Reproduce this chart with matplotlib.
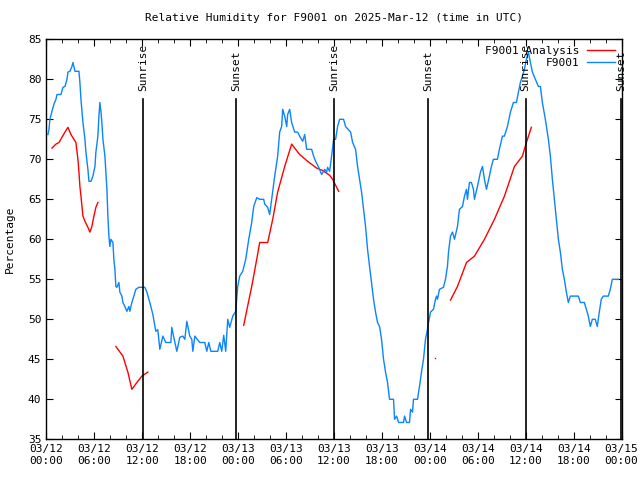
import numpy as np
import pandas as pd
import matplotlib
matplotlib.use("Agg")
import matplotlib.pyplot as plt
import matplotlib.dates as mdates

plt.rcParams['font.family'] = ['DejaVu Sans Mono']

start = pd.Timestamp("2025-03-12 00:00")

# F9001 observations: hours after 03/12 00:00 UTC, relative humidity (%)
obs_hours = [0.21, 0.34, 0.46, 0.71, 0.96, 1.21, 1.34, 1.84, 2.09, 2.34, 2.59, 2.71, 2.96, 3.21, 3.34,
             3.59, 4.09, 4.21, 4.34, 4.59, 4.84, 4.96, 5.21, 5.34, 5.59, 5.84, 6.09, 6.21, 6.46, 6.59,
             6.71, 6.84, 6.96, 7.09, 7.34, 7.46, 7.59, 7.71, 7.84, 7.96, 8.09, 8.34, 8.46, 8.59, 8.71,
             8.84, 9.09, 9.21, 9.46, 9.59, 9.84, 10.09, 10.34, 10.46, 10.71, 10.96, 11.21, 11.59, 12.34,
             12.59, 12.96, 13.34, 13.71, 13.96, 14.21, 14.59, 14.96, 15.59, 15.71, 15.96, 16.34, 16.71,
             17.09, 17.34, 17.59, 17.96, 18.21, 18.34, 18.59, 19.21, 19.84, 20.09, 20.34, 20.59, 21.46,
             21.71, 21.96, 22.21, 22.46, 22.71, 22.96, 23.34, 23.71, 23.96, 24.21, 24.59, 24.96, 25.34,
             25.71, 25.96, 26.34, 26.71, 27.21, 27.34, 27.71, 27.96, 28.21, 28.59, 28.96, 29.21, 29.46,
             29.59, 29.84, 30.09, 30.21, 30.46, 30.71, 31.09, 31.46, 31.71, 32.09, 32.34, 32.59, 33.21,
             33.46, 33.71, 34.09, 34.46, 34.84, 35.09, 35.21, 35.46, 35.71, 35.96, 36.21, 36.46, 36.71,
             37.21, 37.46, 38.09, 38.34, 38.71, 38.96, 39.21, 39.46, 39.71, 39.96, 40.21, 40.46, 40.71,
             40.96, 41.21, 41.46, 41.71, 41.96, 42.21, 42.46, 42.71, 42.96, 43.46, 43.59, 43.84, 44.09,
             44.71, 44.84, 45.09, 45.46, 45.59, 45.84, 45.96, 46.46, 46.71, 46.96, 47.21, 47.46, 47.71,
             47.84, 48.09, 48.46, 48.71, 48.84, 48.96, 49.21, 49.71, 49.96, 50.21, 50.34, 50.59, 50.84,
             51.09, 51.46, 51.71, 52.09, 52.34, 52.59, 52.71, 52.96, 53.21, 53.46, 53.59, 53.96, 54.34,
             54.59, 54.84, 55.09, 55.46, 55.71, 55.96, 56.46, 56.71, 57.09, 57.34, 57.71, 58.09, 58.46,
             58.84, 59.09, 59.34, 59.59, 59.84, 60.09, 60.34, 60.59, 60.84, 61.21, 61.59, 61.84, 62.09,
             62.46, 62.84, 63.09, 63.34, 63.59, 63.84, 64.09, 64.34, 64.59, 64.84, 65.09, 65.34, 65.59,
             66.59, 66.84, 67.34, 67.59, 67.84, 68.09, 68.34, 68.71, 68.96, 69.21, 69.46, 69.71, 70.34,
             70.59, 70.84, 71.59]
obs_rh = [73.1, 73.75, 75, 76, 76.9, 77.5, 78.1, 78.1, 79, 79.1, 80, 80.9, 81, 81.6, 82.1,
          81, 81, 79.6, 77.5, 74.6, 72.5, 70.9, 68.75, 67.25, 67.25, 67.9, 69.1, 70.9, 72.9, 75.4,
          77.1, 76, 74.6, 72.5, 70.4, 68.4, 66.25, 62.9, 60.4, 59.1, 60, 59.6, 57.5, 56.25, 54.1,
          54, 54.6, 53.4, 52.9, 52.1, 51.6, 51, 51.6, 51, 52.1, 52.9, 53.75, 54, 54,
          53.4, 52.1, 50.6, 48.5, 48.7, 46.25, 47.9, 47.1, 47.1, 49, 47.75, 46, 47.75,
          47.9, 47.5, 49.75, 47.9, 47.5, 46, 47.9, 47.1, 47.1, 46, 47.1, 46, 46,
          47.1, 46, 48, 46, 50, 49, 50.4, 51, 54.1, 55.4, 56, 57.5, 60,
          62.1, 64.1, 65.2, 65, 65, 64.4, 64, 63.1, 65, 67.9, 70.4, 73.4, 74.1,
          76.25, 75.4, 74.1, 75.6, 76.25, 74.6, 73.4, 73.4, 72.9, 72.25, 73.1, 71.25, 71.25,
          70.4, 69.75, 69, 68.1, 68.75, 68.4, 69, 68.5, 70.4, 72.5, 72.5, 74.1, 75,
          75, 74.1, 73.4, 72.1, 71.25, 69.1, 67.5, 65.9, 63.75, 61.6, 58.75, 56.6, 54.6,
          52.5, 50.9, 49.6, 49.1, 47.5, 45, 43.4, 42.1, 40, 40, 37.5, 37.9, 37.1,
          37.1, 37.9, 37.1, 37.1, 38.75, 38.4, 40, 40, 41.6, 43.4, 45, 47.5, 48.75,
          49.6, 50.9, 51.25, 52.5, 52.9, 52.5, 53.75, 54, 55, 56.6, 58.4, 60.4, 60.9,
          60, 61.6, 63.75, 64.1, 65.4, 66.25, 65, 67.1, 67.1, 66.25, 65, 66.6, 68.4,
          69.1, 67.5, 66.25, 67.9, 69.1, 70, 70, 71.25, 72.9, 72.9, 74.1, 75.9, 77.1,
          77.1, 78.4, 79.6, 80.4, 81.25, 82.5, 83.4, 82.1, 80.9, 80, 79.1, 79.1, 77.1,
          75, 72.5, 70.4, 67.5, 65, 62.5, 60, 58.4, 56.25, 55, 53.4, 52.1, 52.9,
          52.9, 52.1, 52.1, 51.25, 50.4, 49.1, 50, 50, 49.1, 50.9, 52.5, 52.9, 52.9,
          53.75, 55, 55]

# F9001 Analysis (NaN = gap)
ana_hours = [0.71, 1.21, 1.59, 1.96, 2.34, 2.71, 3.09, 3.46, 3.71, 3.96, 4.09, 4.21, 4.34, 4.59,
             4.84, 5.21, 5.46, 5.71, 5.96, 6.21, 6.46, 7.5,
             8.71, 9.59, 10.21, 10.71, 11.34, 11.96, 12.71, 18.0,
             24.71, 25.71, 26.34, 26.71, 27.71, 28.34, 28.96, 29.84, 30.71, 31.71, 32.71, 33.84,
             34.59, 35.46, 35.84, 36.59, 42.0,
             48.71, 49.5,
             50.59, 51.46, 52.59, 53.59, 54.84, 56.09, 57.34, 58.59, 59.59, 60.09, 60.71]
ana_rh = [71.4, 71.9, 72.1, 72.75, 73.4, 74, 73.1, 72.5, 72.1, 70, 68.4, 66.6, 65.4, 62.9,
          62.25, 61.5, 60.9, 61.6, 62.9, 64, 64.6, np.nan,
          46.6, 45.4, 43.4, 41.25, 42.1, 42.9, 43.4, np.nan,
          49.25, 54.1, 57.5, 59.6, 59.6, 62.5, 65.9, 69.1, 71.9, 70.6, 69.75, 68.9,
          68.6, 68, 67.5, 66, np.nan,
          45.1, np.nan,
          52.4, 54.1, 57.1, 57.9, 60, 62.5, 65.4, 69.1, 70.4, 72.1, 74]

sun_hours = [12.1, 23.75, 36.03, 47.75, 60.0, 71.9]
sun_labels = ["Sunrise", "Sunset", "Sunrise", "Sunset", "Sunrise", "Sunset"]

obs_t = start + pd.to_timedelta(obs_hours, unit="h")
ana_t = start + pd.to_timedelta(ana_hours, unit="h")
sun_t = start + pd.to_timedelta(sun_hours, unit="h")

fig = plt.figure(figsize=(6.4, 4.8), dpi=100)
ax = fig.add_axes([0.0723, 0.0848, 0.8989, 0.8333])

ax.plot(ana_t, ana_rh, color="#ff0000", lw=1.0, label="F9001 Analysis")
# isolated analysis points (no neighbours to draw a line to)
ana = np.array(ana_rh, dtype=float)
for i in range(len(ana)):
    prev_nan = i == 0 or np.isnan(ana[i - 1])
    next_nan = i == len(ana) - 1 or np.isnan(ana[i + 1])
    if not np.isnan(ana[i]) and prev_nan and next_nan:
        ax.plot([ana_t[i]], [ana[i]], ls="none", marker="s", ms=1, color="#ff0000", mew=0)
ax.plot(obs_t, obs_rh, color="#0a84ff", lw=1.0, label="F9001")

for t, lab in zip(sun_t, sun_labels):
    ax.plot([t, t], [35, 77.5], color="black", lw=1.2)
    ax.text(t, 78.5, lab, rotation=90, ha="center", va="bottom", fontsize=8)

ax.set_xlim(start, start + pd.Timedelta(hours=72))
ax.set_ylim(35, 85)
ax.set_yticks(range(35, 86, 5))
ax.xaxis.set_major_locator(mdates.HourLocator(byhour=range(0, 24, 6)))
ax.xaxis.set_minor_locator(mdates.HourLocator(byhour=range(0, 24, 2)))
ax.xaxis.set_major_formatter(mdates.DateFormatter("%m/%d\n%H:%M"))
ax.tick_params(which="both", direction="in", top=True, right=True, labelsize=8)
ax.tick_params(which="major", length=5)
ax.tick_params(which="minor", length=3)
for s in ax.spines.values():
    s.set_linewidth(1.0)

ax.set_title("Relative Humidity for F9001 on 2025-Mar-12 (time in UTC)", fontsize=8, pad=13)
ax.set_ylabel("Percentage", fontsize=8)
ax.yaxis.set_label_coords(-0.054, 0.5)

ax.legend(loc="upper right", frameon=False, fontsize=8, markerfirst=False,
          handlelength=2.5, handletextpad=0.7, borderaxespad=0.5, borderpad=0.1,
          labelspacing=0.2)

fig.savefig("out.png", dpi=100)
